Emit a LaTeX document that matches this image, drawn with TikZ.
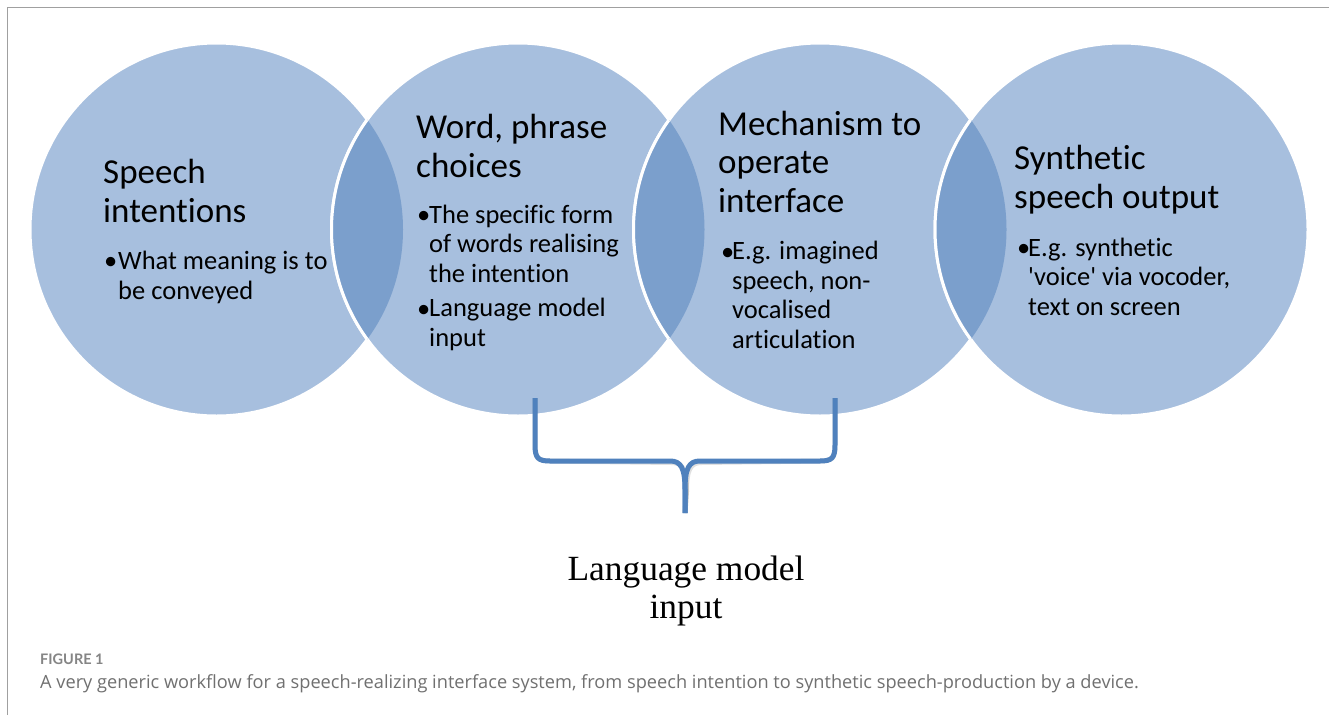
\documentclass[tikz,border=0pt]{standalone}
\usepackage{fontspec}
\newfontfamily\calfont[Ligatures=NoCommon]{Carlito}
\newfontfamily\serfont{Liberation Serif}
\newfontfamily\capfont{Lato}
\newfontfamily\capbody{Open Sans}
\definecolor{circ}{HTML}{A7BFDE}
\definecolor{lens}{HTML}{7B9FCC}
\definecolor{bracecol}{HTML}{4F81BD}
\definecolor{capgray}{HTML}{707070}
\definecolor{framegray}{HTML}{A0A0A0}
\begin{document}
\begin{tikzpicture}[x=1pt,y=-1pt,
  head/.style={font=\calfont\fontsize{35}{38.5}\selectfont, anchor=base west, inner sep=0pt, align=left},
  body/.style={font=\calfont\fontsize{26.5}{29.5}\selectfont, anchor=base west, inner sep=0pt, align=left},
  bul/.style={font=\calfont\fontsize{26.5}{29.5}\selectfont, anchor=base west, inner sep=0pt},
  disc/.style={fill=circ, draw=white, line width=3pt},
  bracestyle/.style={draw=bracecol, line width=5pt, line cap=butt, line join=round},
  bshadow/.style={draw=black, opacity=0.12, line width=5pt, line join=round}]
\useasboundingbox (0,0) rectangle (1329,715);
\fill[white] (0,0) rectangle (1329,715);
\coordinate (fbl) at (7.5,715);
\coordinate (ftl) at (7.5,7.5);
\coordinate (ftr) at (1329,7.5);
\draw[framegray, line width=1.5pt] (fbl) -- (ftl) -- (ftr);

\coordinate (c1) at (216.5,229.5);
\coordinate (c2) at (518,229.5);
\coordinate (c3) at (820,229.5);
\coordinate (c4) at (1121.5,229.5);
\foreach \c in {c1,c2,c3,c4} { \path[disc] (\c) circle[radius=186.5pt]; }
\foreach \a/\b in {c1/c2,c2/c3,c3/c4} {
  \begin{scope}
    \clip (\a) circle[radius=186.5pt];
    \fill[lens] (\b) circle[radius=186.5pt];
    \draw[white, line width=3pt] (\b) circle[radius=186.5pt];
  \end{scope}
}

% circle 1 (nodes anchored at the baseline of their last line)
\node[head] (h1) at (103,222) {Speech\\intentions};
\node[bul] (b1) at (104,269) {•};
\node[body] (t1) at (118,299) {What meaning is to\\be conveyed};
% circle 2
\node[head] (h2) at (416,177) {Word, phrase\\choices};
\node[bul] (b2a) at (417,223) {•};
\node[body] (t2a) at (429,282) {The specific form\\of words realising\\the intention};
\node[bul] (b2b) at (417,317) {•};
\node[body] (t2b) at (429,346) {Language model\\input};
% circle 3
\node[head] (h3) at (718,212) {Mechanism to\\operate\\interface};
\node[bul] (b3) at (721,260) {•};
\node[body] (t3) at (732,348) {E.g. imagined\\speech, non-\\vocalised\\articulation};
% circle 4
\node[head] (h4) at (1014,208) {Synthetic\\speech output};
\node[bul] (b4) at (1017,256) {•};
\node[body] (t4) at (1028,315) {E.g. synthetic\\'voice' via vocoder,\\text on screen};

% brace
\coordinate (bl) at (535,398);
\coordinate (br) at (835,398);
\coordinate (bm) at (685,513);
\foreach \s/\o in {bshadow/1.5,bracestyle/0} {
  \path[\s, shift={(\o,\o)}] (bl) -- ++(0,47) .. controls ++(0,13) and ++(-12,0) .. ++(15,16)
     -- (670,461) .. controls (681,461) and (685,468) .. (685,490) -- (bm);
  \path[\s, shift={(\o,\o)}] (br) -- ++(0,47) .. controls ++(0,13) and ++(12,0) .. ++(-15,16)
     -- (700,461) .. controls (689,461) and (685,468) .. (685,490) -- (bm);
}

\node[font=\serfont\fontsize{35.4}{38}\selectfont, align=center, anchor=base, inner sep=0pt] (lm) at (686,618) {Language model\\input};

% caption
\node[font=\capfont\bfseries\fontsize{14.5}{16}\selectfont, text=capgray!85, anchor=base west, inner sep=0pt] (fig) at (40,664) {FIGURE 1};
\node[font=\capbody\fontsize{18.2}{20}\selectfont, text=capgray, anchor=base west, inner sep=0pt] (cap) at (40,688) {A very generic workflow for a speech-realizing interface system, from speech intention to synthetic speech-production by a device.};
\end{tikzpicture}
\end{document}
